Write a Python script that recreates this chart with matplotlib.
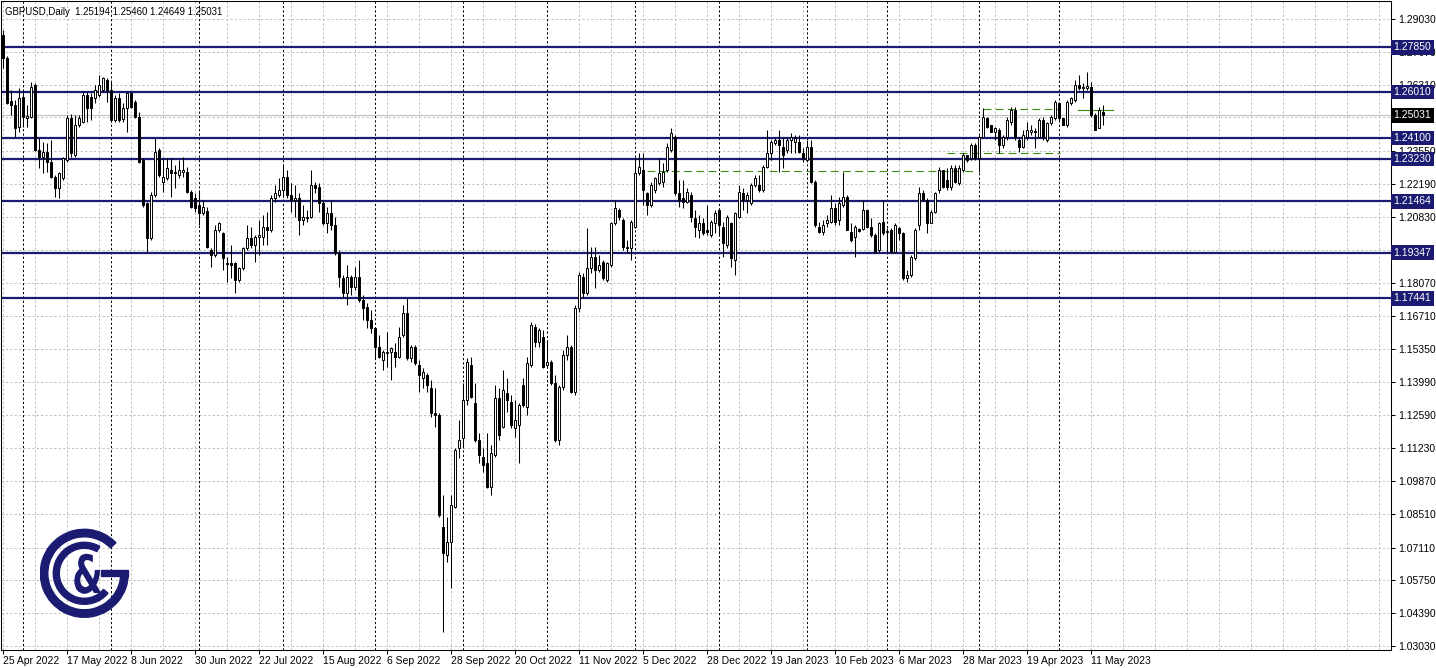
import numpy as np
import pandas as pd
import matplotlib
matplotlib.use("Agg")
import matplotlib.pyplot as plt
from matplotlib.patches import Wedge, Rectangle, PathPatch
from matplotlib.textpath import TextPath
from matplotlib.font_manager import FontProperties
from matplotlib.transforms import Affine2D

plt.rcParams["font.family"] = ["Liberation Sans", "DejaVu Sans"]

# GBPUSD daily bars, 25 Apr 2022 .. 16 May 2023 (no bar on 26 Dec 2022)
dates = pd.bdate_range("2022-04-25", "2023-05-16").drop(pd.Timestamp("2022-12-26"))

opens = [
    1.2837, 1.2742, 1.2563, 1.2547, 1.2455, 1.2580, 1.2493, 1.2497, 1.2630, 1.2360,
    1.2331, 1.2352, 1.2310, 1.2248, 1.2202, 1.2244, 1.2318, 1.2493, 1.2339, 1.2464,
    1.2476, 1.2588, 1.2580, 1.2576, 1.2588, 1.2609, 1.2650, 1.2609, 1.2484, 1.2576,
    1.2489, 1.2534, 1.2596, 1.2559, 1.2497, 1.2318, 1.2140, 1.1995, 1.2173, 1.2360,
    1.2227, 1.2244, 1.2277, 1.2269, 1.2256, 1.2269, 1.2269, 1.2186, 1.2161, 1.2132,
    1.2099, 1.2107, 1.1945, 1.1925, 1.2028, 1.2016, 1.1891, 1.1891, 1.1891, 1.1821,
    1.1871, 1.1954, 1.1995, 1.1966, 1.1999, 1.1999, 1.2041, 1.2028, 1.2161, 1.2173,
    1.2194, 1.2248, 1.2173, 1.2153, 1.2161, 1.2070, 1.2078, 1.2082, 1.2215, 1.2207,
    1.2140, 1.2057, 1.2099, 1.2049, 1.1933, 1.1829, 1.1767, 1.1833, 1.1792, 1.1833,
    1.1738, 1.1709, 1.1655, 1.1622, 1.1543, 1.1489, 1.1518, 1.1522, 1.1522, 1.1502,
    1.1593, 1.1684, 1.1497, 1.1543, 1.1468, 1.1414, 1.1427, 1.1373, 1.1269, 1.1261,
    1.0797, 1.0680, 1.0734, 1.0880, 1.1124, 1.1166, 1.1323, 1.1468, 1.1311, 1.1157,
    1.1087, 1.1062, 1.0962, 1.1095, 1.1332, 1.1211, 1.1352, 1.1315, 1.1207, 1.1220,
    1.1385, 1.1294, 1.1468, 1.1626, 1.1564, 1.1585, 1.1468, 1.1481, 1.1394, 1.1157,
    1.1377, 1.1510, 1.1543, 1.1356, 1.1705, 1.1833, 1.1767, 1.1871, 1.1916, 1.1862,
    1.1896, 1.1821, 1.1883, 1.2057, 1.2111, 1.2070, 1.1958, 1.1954, 1.2041, 1.2265,
    1.2277, 1.2182, 1.2132, 1.2194, 1.2223, 1.2227, 1.2277, 1.2360, 1.2414, 1.2182,
    1.2161, 1.2144, 1.2173, 1.2078, 1.2028, 1.2057, 1.2028, 1.2007, 1.2057, 1.2111,
    1.2041, 1.1966, 1.2057, 1.1904, 1.2082, 1.2182, 1.2153, 1.2140, 1.2215, 1.2215,
    1.2194, 1.2290, 1.2348, 1.2389, 1.2401, 1.2372, 1.2360, 1.2401, 1.2393, 1.2393,
    1.2348, 1.2318, 1.2372, 1.2227, 1.2041, 1.2020, 1.2057, 1.2061, 1.2119, 1.2070,
    1.2132, 1.2165, 1.2020, 1.1999, 1.2032, 1.2032, 1.2111, 1.2041, 1.2007, 1.1945,
    1.2061, 1.2020, 1.2028, 1.1937, 1.2037, 1.2016, 1.1829, 1.1842, 1.1912, 1.2049,
    1.2182, 1.2153, 1.2057, 1.2103, 1.2194, 1.2277, 1.2236, 1.2207, 1.2285, 1.2223,
    1.2277, 1.2339, 1.2327, 1.2381, 1.2327, 1.2414, 1.2493, 1.2464, 1.2435, 1.2443,
    1.2381, 1.2414, 1.2476, 1.2526, 1.2401, 1.2372, 1.2414, 1.2435, 1.2439, 1.2414,
    1.2484, 1.2401, 1.2472, 1.2493, 1.2555, 1.2493, 1.2464, 1.2555, 1.2567, 1.2630,
    1.2617, 1.2617, 1.2621, 1.2505, 1.2451, 1.25194,
]
highs = [
    1.2858, 1.2750, 1.2609, 1.2567, 1.2617, 1.2600, 1.2547, 1.2642, 1.2638, 1.2410,
    1.2393, 1.2389, 1.2401, 1.2256, 1.2269, 1.2331, 1.2505, 1.2509, 1.2505, 1.2505,
    1.2600, 1.2600, 1.2596, 1.2630, 1.2671, 1.2663, 1.2659, 1.2642, 1.2588, 1.2596,
    1.2555, 1.2600, 1.2600, 1.2567, 1.2518, 1.2327, 1.2144, 1.2186, 1.2410, 1.2368,
    1.2327, 1.2327, 1.2327, 1.2298, 1.2318, 1.2331, 1.2290, 1.2194, 1.2182, 1.2194,
    1.2153, 1.2124, 1.1954, 1.2049, 1.2061, 1.2020, 1.1916, 1.1966, 1.1896, 1.1875,
    1.1958, 1.2049, 1.2041, 1.2007, 1.2070, 1.2090, 1.2103, 1.2173, 1.2215, 1.2244,
    1.2298, 1.2277, 1.2223, 1.2215, 1.2182, 1.2132, 1.2111, 1.2277, 1.2227, 1.2223,
    1.2153, 1.2124, 1.2153, 1.2082, 1.1945, 1.1842, 1.1883, 1.1842, 1.1875, 1.1904,
    1.1759, 1.1725, 1.1696, 1.1626, 1.1593, 1.1531, 1.1605, 1.1543, 1.1560, 1.1626,
    1.1717, 1.1746, 1.1551, 1.1551, 1.1489, 1.1456, 1.1435, 1.1406, 1.1373, 1.1269,
    1.0929, 1.0838, 1.0929, 1.1124, 1.1240, 1.1394, 1.1497, 1.1502, 1.1394, 1.1186,
    1.1124, 1.1186, 1.1137, 1.1385, 1.1373, 1.1448, 1.1414, 1.1344, 1.1323, 1.1311,
    1.1414, 1.1502, 1.1647, 1.1640, 1.1622, 1.1614, 1.1572, 1.1489, 1.1427, 1.1385,
    1.1531, 1.1593, 1.1551, 1.1717, 1.1854, 1.1850, 1.2037, 1.1958, 1.1958, 1.1925,
    1.1904, 1.1896, 1.2061, 1.2153, 1.2119, 1.2078, 1.1987, 1.2070, 1.2327, 1.2348,
    1.2348, 1.2186, 1.2227, 1.2248, 1.2327, 1.2306, 1.2389, 1.2451, 1.2422, 1.2236,
    1.2236, 1.2202, 1.2186, 1.2111, 1.2090, 1.2078, 1.2132, 1.2070, 1.2111, 1.2119,
    1.2061, 1.2090, 1.2061, 1.2103, 1.2215, 1.2202, 1.2186, 1.2223, 1.2256, 1.2256,
    1.2298, 1.2443, 1.2401, 1.2410, 1.2443, 1.2414, 1.2410, 1.2430, 1.2422, 1.2422,
    1.2368, 1.2401, 1.2401, 1.2236, 1.2061, 1.2070, 1.2090, 1.2173, 1.2140, 1.2165,
    1.2269, 1.2173, 1.2057, 1.2049, 1.2037, 1.2153, 1.2111, 1.2078, 1.2016, 1.2061,
    1.2153, 1.2037, 1.2037, 1.2057, 1.2041, 1.2020, 1.1862, 1.1925, 1.2037, 1.2207,
    1.2194, 1.2161, 1.2111, 1.2186, 1.2290, 1.2277, 1.2285, 1.2298, 1.2298, 1.2298,
    1.2348, 1.2339, 1.2389, 1.2389, 1.2422, 1.2534, 1.2497, 1.2464, 1.2455, 1.2451,
    1.2422, 1.2497, 1.2538, 1.2538, 1.2414, 1.2443, 1.2476, 1.2464, 1.2451, 1.2493,
    1.2497, 1.2476, 1.2505, 1.2567, 1.2559, 1.2493, 1.2567, 1.2580, 1.2650, 1.2671,
    1.2638, 1.2683, 1.2642, 1.2513, 1.2538, 1.25460,
]
lows = [
    1.2700, 1.2551, 1.2505, 1.2414, 1.2435, 1.2455, 1.2455, 1.2493, 1.2356, 1.2285,
    1.2265, 1.2269, 1.2244, 1.2165, 1.2161, 1.2236, 1.2310, 1.2331, 1.2331, 1.2455,
    1.2472, 1.2476, 1.2484, 1.2555, 1.2580, 1.2600, 1.2559, 1.2476, 1.2476, 1.2476,
    1.2476, 1.2435, 1.2534, 1.2493, 1.2306, 1.2124, 1.1937, 1.1987, 1.2165, 1.2248,
    1.2186, 1.2236, 1.2165, 1.2202, 1.2244, 1.2248, 1.2182, 1.2119, 1.2103, 1.2049,
    1.2090, 1.1954, 1.1875, 1.1916, 1.2020, 1.1862, 1.1813, 1.1829, 1.1767, 1.1813,
    1.1862, 1.1945, 1.1954, 1.1896, 1.1925, 1.1966, 1.1966, 1.2020, 1.2144, 1.2165,
    1.2165, 1.2161, 1.2103, 1.2082, 1.2007, 1.2049, 1.2061, 1.2078, 1.2182, 1.2103,
    1.2049, 1.2016, 1.2028, 1.1925, 1.1792, 1.1746, 1.1717, 1.1759, 1.1779, 1.1730,
    1.1655, 1.1622, 1.1601, 1.1497, 1.1497, 1.1448, 1.1460, 1.1406, 1.1460, 1.1497,
    1.1585, 1.1489, 1.1481, 1.1468, 1.1356, 1.1373, 1.1356, 1.1253, 1.1211, 1.0838,
    1.0361, 1.0651, 1.0544, 1.0875, 1.1083, 1.1124, 1.1303, 1.1332, 1.1149, 1.1062,
    1.1025, 1.0958, 1.0929, 1.1087, 1.1157, 1.1207, 1.1273, 1.1207, 1.1170, 1.1062,
    1.1294, 1.1261, 1.1460, 1.1543, 1.1543, 1.1456, 1.1460, 1.1385, 1.1149, 1.1137,
    1.1365, 1.1489, 1.1352, 1.1344, 1.1688, 1.1746, 1.1759, 1.1850, 1.1788, 1.1854,
    1.1821, 1.1813, 1.1875, 1.2049, 1.2070, 1.1945, 1.1937, 1.1904, 1.2037, 1.2256,
    1.2132, 1.2090, 1.2124, 1.2182, 1.2215, 1.2207, 1.2269, 1.2352, 1.2173, 1.2124,
    1.2119, 1.2140, 1.2061, 1.1999, 1.1995, 1.2007, 1.2007, 1.1999, 1.2016, 1.2007,
    1.1916, 1.1954, 1.1875, 1.1842, 1.2078, 1.2111, 1.2099, 1.2132, 1.2207, 1.2186,
    1.2186, 1.2285, 1.2318, 1.2381, 1.2269, 1.2285, 1.2348, 1.2348, 1.2348, 1.2348,
    1.2310, 1.2310, 1.2223, 1.2041, 1.2016, 1.2007, 1.2041, 1.2057, 1.2049, 1.2049,
    1.2124, 1.2028, 1.1978, 1.1916, 1.2020, 1.2028, 1.2037, 1.1999, 1.1933, 1.1937,
    1.2007, 1.1937, 1.1933, 1.1933, 1.1987, 1.1821, 1.1813, 1.1833, 1.1904, 1.2028,
    1.2153, 1.2016, 1.2057, 1.2099, 1.2182, 1.2202, 1.2194, 1.2194, 1.2223, 1.2215,
    1.2269, 1.2310, 1.2318, 1.2318, 1.2269, 1.2410, 1.2451, 1.2435, 1.2401, 1.2348,
    1.2368, 1.2401, 1.2464, 1.2401, 1.2352, 1.2368, 1.2401, 1.2422, 1.2368, 1.2410,
    1.2401, 1.2393, 1.2464, 1.2484, 1.2484, 1.2464, 1.2455, 1.2547, 1.2559, 1.2609,
    1.2576, 1.2609, 1.2497, 1.2443, 1.2451, 1.24649,
]
closes = [
    1.2742, 1.2555, 1.2547, 1.2451, 1.2576, 1.2497, 1.2501, 1.2621, 1.2360, 1.2331,
    1.2352, 1.2310, 1.2248, 1.2202, 1.2265, 1.2327, 1.2493, 1.2348, 1.2464, 1.2493,
    1.2588, 1.2534, 1.2534, 1.2609, 1.2630, 1.2659, 1.2609, 1.2484, 1.2576, 1.2484,
    1.2534, 1.2596, 1.2538, 1.2497, 1.2310, 1.2132, 1.1995, 1.2173, 1.2352, 1.2256,
    1.2248, 1.2285, 1.2265, 1.2265, 1.2277, 1.2277, 1.2186, 1.2124, 1.2119, 1.2099,
    1.2124, 1.1958, 1.1925, 1.2028, 1.2057, 1.1912, 1.1887, 1.1883, 1.1821, 1.1871,
    1.1954, 1.1995, 1.1966, 1.1999, 1.2007, 1.2041, 1.2028, 1.2161, 1.2182, 1.2194,
    1.2248, 1.2173, 1.2153, 1.2161, 1.2070, 1.2082, 1.2082, 1.2215, 1.2202, 1.2140,
    1.2057, 1.2099, 1.2049, 1.1933, 1.1833, 1.1767, 1.1833, 1.1792, 1.1833, 1.1738,
    1.1705, 1.1655, 1.1622, 1.1543, 1.1502, 1.1522, 1.1522, 1.1539, 1.1502, 1.1585,
    1.1684, 1.1497, 1.1543, 1.1477, 1.1427, 1.1439, 1.1385, 1.1269, 1.1261, 1.0846,
    1.0689, 1.0734, 1.0888, 1.1116, 1.1157, 1.1323, 1.1481, 1.1336, 1.1157, 1.1095,
    1.1054, 1.0962, 1.1103, 1.1332, 1.1178, 1.1365, 1.1323, 1.1220, 1.1240, 1.1303,
    1.1303, 1.1477, 1.1634, 1.1564, 1.1614, 1.1460, 1.1481, 1.1394, 1.1157, 1.1377,
    1.1510, 1.1543, 1.1356, 1.1705, 1.1842, 1.1767, 1.1871, 1.1916, 1.1862, 1.1883,
    1.1829, 1.1891, 1.2057, 1.2119, 1.2082, 1.1958, 1.1954, 1.2061, 1.2265, 1.2290,
    1.2194, 1.2132, 1.2215, 1.2244, 1.2265, 1.2269, 1.2372, 1.2430, 1.2182, 1.2153,
    1.2144, 1.2186, 1.2082, 1.2041, 1.2057, 1.2016, 1.2020, 1.2061, 1.2099, 1.2049,
    1.1974, 1.2082, 1.1912, 1.2099, 1.2186, 1.2153, 1.2173, 1.2215, 1.2244, 1.2194,
    1.2290, 1.2348, 1.2393, 1.2401, 1.2381, 1.2339, 1.2401, 1.2414, 1.2410, 1.2352,
    1.2327, 1.2372, 1.2227, 1.2049, 1.2020, 1.2049, 1.2070, 1.2119, 1.2061, 1.2140,
    1.2165, 1.2028, 1.1987, 1.2041, 1.2024, 1.2111, 1.2041, 1.2007, 1.1937, 1.2057,
    1.2016, 1.2024, 1.1937, 1.2049, 1.2016, 1.1829, 1.1842, 1.1916, 1.2028, 1.2182,
    1.2153, 1.2057, 1.2103, 1.2182, 1.2277, 1.2207, 1.2207, 1.2285, 1.2227, 1.2285,
    1.2339, 1.2318, 1.2381, 1.2327, 1.2414, 1.2497, 1.2455, 1.2435, 1.2451, 1.2381,
    1.2414, 1.2484, 1.2526, 1.2414, 1.2372, 1.2422, 1.2443, 1.2443, 1.2435, 1.2484,
    1.2414, 1.2472, 1.2497, 1.2559, 1.2493, 1.2464, 1.2559, 1.2576, 1.2630, 1.2617,
    1.2621, 1.2625, 1.2505, 1.2443, 1.2526, 1.25031,
]

levels = [1.27850, 1.26010, 1.24100, 1.23230, 1.21464, 1.19347, 1.17441]
last_price = 1.25031
price_ticks = [1.29030, 1.27670, 1.26310, 1.24950, 1.23550, 1.22190, 1.20830,
               1.19470, 1.18070, 1.16710, 1.15350, 1.13990, 1.12590, 1.11230,
               1.09870, 1.08510, 1.07110, 1.05750, 1.04390, 1.03030]
hidden_ticks = [1.24950, 1.19470]   # fully covered by level boxes on the reference
# drawn objects: (first bar, last bar, price)
green_dashed = [(161, 243, 1.2273), (236, 264.3, 1.2347), (245, 264.3, 1.2530)]
green_solid = [(268.7, 277.5, 1.2526)]

NAVY = "#1b1b72"
GRID = "#c0c0c0"
W, H = 1436, 668

fig = plt.figure(figsize=(W / 100, H / 100), dpi=100)
ax = fig.add_axes([1 / W, 18 / H, 1390 / W, 649 / H])
ax.set_xlim(-0.5, 347)
ax.set_ylim(1.02863, 1.29777)

n = len(closes)
x = np.arange(n)
o, h, l, c = map(np.array, (opens, highs, lows, closes))

# grid
for t in price_ticks:
    ax.axhline(t, color=GRID, lw=0.72, ls=(0, (2.2, 2.2)), zorder=1)
for i in range(0, 348, 8):
    ax.axvline(i, color=GRID, lw=0.72, ls=(0, (2.2, 2.2)), zorder=1)
month_starts = [i for i in range(1, n) if dates[i].month != dates[i - 1].month]
for i in month_starts:
    ax.axvline(i, color="black", lw=0.72, ls=(0, (2.2, 2.2)), zorder=1.2)

ax.axhline(last_price, color=GRID, lw=0.8, zorder=1.5)
for lv in levels:
    ax.axhline(lv, color=NAVY, lw=1.6, zorder=2)

for a, b, p in green_dashed:
    ax.plot([a, b], [p, p], color="#3c8c12", lw=0.8, ls=(0, (7, 4)), zorder=2.5)
for a, b, p in green_solid:
    ax.plot([a, b], [p, p], color="#3c8c12", lw=0.8, zorder=2.5)

# candles
ax.vlines(x, l, h, color="black", lw=0.75, zorder=3)
up = c >= o
body_lo = np.minimum(o, c)
body_h = np.maximum(np.abs(c - o), 0.00008)
ax.bar(x, body_h, bottom=body_lo, width=0.55,
       color=np.where(up, "white", "black"), edgecolor="black",
       linewidth=0.7, zorder=4)

# axes
for s in ax.spines.values():
    s.set_color("black")
    s.set_linewidth(0.75)
ax.yaxis.tick_right()
ax.set_yticks(price_ticks)
ax.set_yticklabels(["" if t in hidden_ticks else f"{t:.5f}" for t in price_ticks])
ax.tick_params(axis="y", length=3, width=0.75, pad=2, labelsize=7.5)

lab_idx = list(range(0, n, 16))
ax.set_xticks(lab_idx)
ax.set_xticklabels([f"{dates[i].day} {dates[i].strftime('%b %Y')}" for i in lab_idx])
ax.tick_params(axis="x", length=3, width=0.75, pad=1, labelsize=7.5)
plt.setp(ax.get_xticklabels(), ha="left")

tr = ax.get_yaxis_transform()
for lv in levels:
    ax.text(1.0 + 2.5 / 1390, lv, f"{lv:.5f}", transform=tr, ha="left", va="center",
            fontsize=7.5, color="white", clip_on=False, zorder=10,
            bbox=dict(boxstyle="square,pad=0.22", fc=NAVY, ec="none"))
ax.text(1.0 + 2.5 / 1390, last_price, f"{last_price:.5f}", transform=tr, ha="left",
        va="center", fontsize=7.5, color="white", clip_on=False, zorder=10,
        bbox=dict(boxstyle="square,pad=0.22", fc="black", ec="none"))

ax.text(4 / 1390, 1 - 11 / 649, "GBPUSD,Daily  1.25194 1.25460 1.24649 1.25031",
        transform=ax.transAxes, ha="left", va="center", fontsize=6.9, zorder=10)

# logo
lax = fig.add_axes([40 / W, (H - 620) / H, 90 / W, 92 / H])
lax.set_xlim(0, 90)
lax.set_ylim(0, 92)
lax.axis("off")
cx, cy = 44.3, 46.7
lax.add_patch(Wedge((cx, cy), 44, 44, 360, width=7.5, color=NAVY))
lax.add_patch(Rectangle((cx + 17, cy - 2.5), 27, 6, color=NAVY))
lax.add_patch(Wedge((cx, cy), 31, 60, 320, width=6, color=NAVY))
tp = TextPath((0, 0), "&", size=1, prop=FontProperties(family="DejaVu Sans", weight="bold"))
ext = tp.get_extents()
sx, sy = 27 / ext.width, 40 / ext.height
amp = Affine2D().translate(-ext.x0, -ext.y0).scale(sx, sy).translate(cx - 10, cy - 20.5)
lax.add_patch(PathPatch(amp.transform_path(tp), color=NAVY, lw=0))

fig.savefig("out.png", dpi=100)
